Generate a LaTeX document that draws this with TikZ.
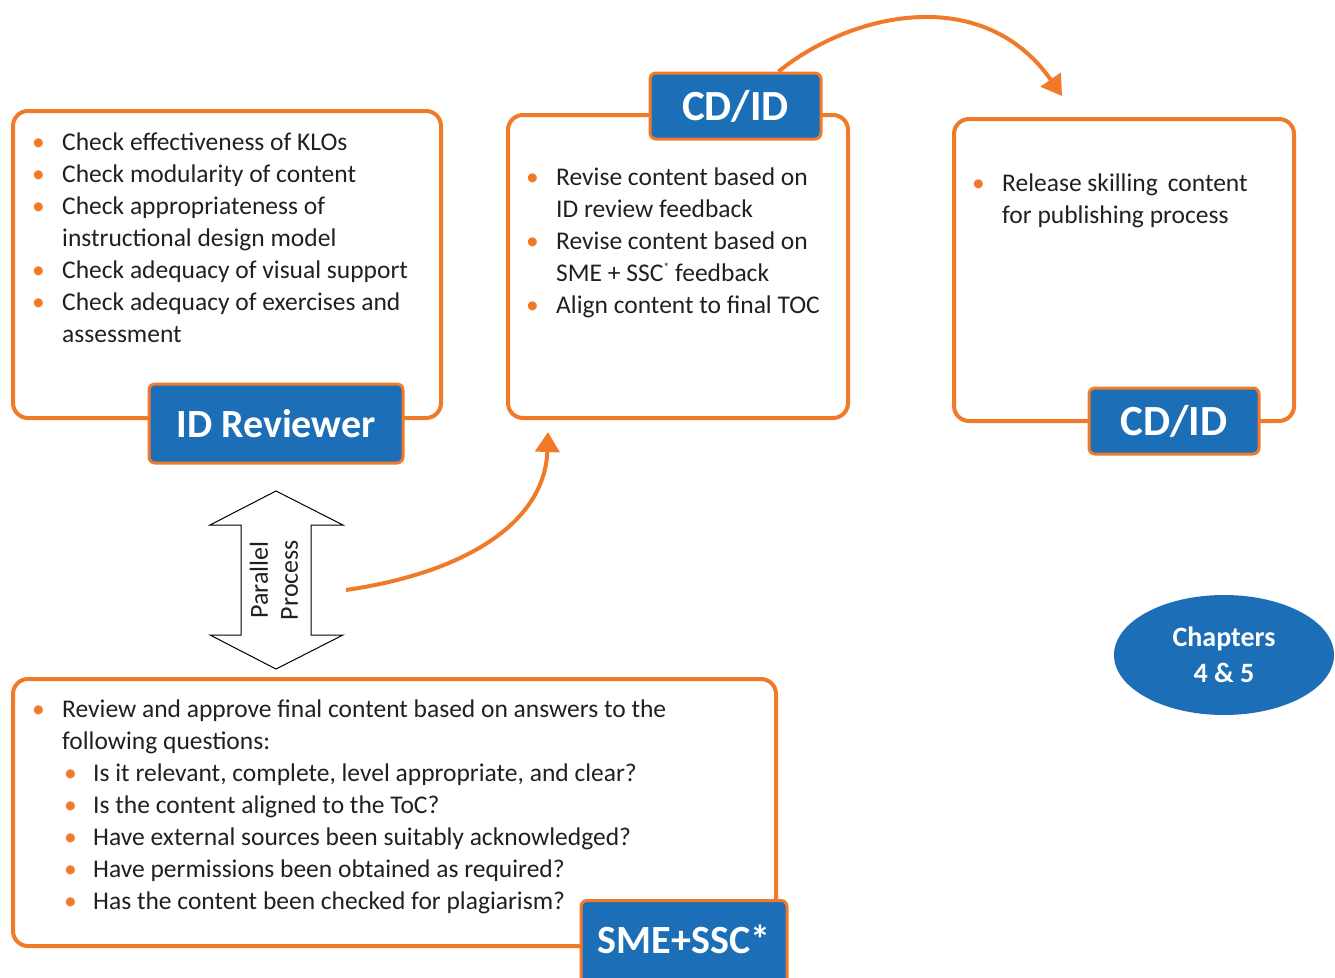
\documentclass[tikz,border=0pt]{standalone}
\usepackage{fontspec}
\setmainfont{Carlito}
\usetikzlibrary{arrows.meta,shapes.geometric}
\definecolor{accent}{HTML}{F07A2A}
\definecolor{badge}{HTML}{1C6FB6}
\definecolor{ink}{HTML}{231F20}
% list markers
\newcommand{\bul}{\makebox[31pt][l]{\hspace{1pt}\color{accent}\textbullet}}
\newcommand{\subbul}{\makebox[31pt][l]{\hspace{2pt}\color{accent}\textbullet}}
\tikzset{
  stage/.style={draw=accent, line width=4pt, rounded corners=15pt},
  role/.style={draw=accent, line width=3pt, fill=badge, rounded corners=6pt,
    text=white, font=\bfseries\fontsize{40}{44}\selectfont, inner sep=0pt},
  items/.style={anchor=base west, inner sep=0pt, text=ink,
    font=\fontsize{25.5}{32}\selectfont},
  flow/.style={draw=accent, line width=4pt,
    -{Triangle[length=20pt,width=24pt]}},
}
\begin{document}
\begin{tikzpicture}[x=1pt,y=-1pt]
\useasboundingbox (0,0) rectangle (1335,977);

% stage frames
\draw[stage] (13,111) rectangle (441,418);
\draw[stage] (508,115) rectangle (848,418);
\draw[stage] (954,119) rectangle (1294,421);
\draw[stage] (13,679) rectangle (776,946);

% bullet lists
\node[items] (l1) at (31,150) {\begin{tabular}[t]{@{}l@{}l@{}}
\bul & Check effectiveness of KLOs\\
\bul & Check modularity of content\\
\bul & Check appropriateness of\\
     & instructional design model\\
\bul & Check adequacy of visual support\\
\bul & Check adequacy of exercises and\\
     & assessment
\end{tabular}};

\node[items] (l2) at (525,185) {\begin{tabular}[t]{@{}l@{}l@{}}
\bul & Revise content based on\\
     & ID review feedback\\
\bul & Revise content based on\\
     & SME + SSC\raisebox{0.75ex}{\fontsize{12}{12}\selectfont *} feedback\\
\bul & Align content to final TOC
\end{tabular}};

\node[items] (l3) at (971,191) {\begin{tabular}[t]{@{}l@{}l@{}}
\bul & Release skilling\, content\\
     & for publishing process
\end{tabular}};

\node[items] (l4) at (31,717) {\begin{tabular}[t]{@{}l@{}l@{}}
\bul & Review and approve final content based on answers to the\\
     & following questions:\\
     & \subbul Is it relevant, complete, level appropriate, and clear?\\
     & \subbul Is the content aligned to the ToC?\\
     & \subbul Have external sources been suitably acknowledged?\\
     & \subbul Have permissions been obtained as required?\\
     & \subbul Has the content been checked for plagiarism?
\end{tabular}};

% role badges
\node[role, minimum width=254pt, minimum height=79pt] (r1) at (276,423.5) {ID Reviewer};
\node[role, minimum width=171pt, minimum height=66pt, font=\bfseries\fontsize{43}{44}\selectfont]
  (r2) at (735.5,106) {CD/ID};
\node[role, minimum width=170pt, minimum height=66pt, font=\bfseries\fontsize{43}{44}\selectfont]
  (r3) at (1174,421) {CD/ID};
\node[role, minimum width=206pt, minimum height=90pt, anchor=north, text depth=0pt]
  (r4) at (684,899) {\raisebox{12pt}{SME+SSC*}};

% parallel-process double arrow
\draw[line width=1pt, fill=white] (276,491) -- (343,525) -- (311,525) -- (311,635)
  -- (343,635) -- (276,669) -- (210,635) -- (241,635) -- (241,525) -- (210,525) -- cycle;
\node[rotate=90, align=center, text=ink, font=\fontsize{26}{30}\selectfont, inner sep=0pt]
  (pp) at (274,580) {Parallel\\Process};

% chapter tag
\node[ellipse, fill=badge, minimum width=220pt, minimum height=120pt, inner sep=0pt,
  align=center, text=white, font=\bfseries\fontsize{28}{36}\selectfont]
  (ch) at (1224,655) {Chapters\\4 \& 5};

% flow arrows
\coordinate (a1s) at (346,590);
\coordinate (a1e) at (548,432);
\draw[flow] (a1s) .. controls (470,572) and (545,520) .. (a1e);
\coordinate (a2s) at ([xshift=43pt]r2.north);
\coordinate (a2e) at (1062,96);
\draw[flow] (a2s) .. controls (855,10) and (985,-15) .. (a2e);
\end{tikzpicture}
\end{document}
